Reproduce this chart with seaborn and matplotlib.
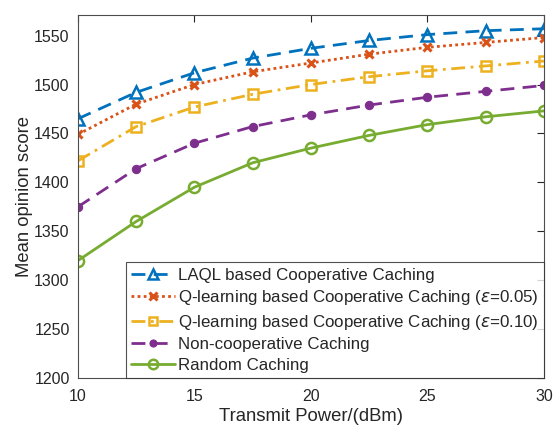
import matplotlib
matplotlib.use("Agg")
import matplotlib.pyplot as plt
import seaborn as sns
import pandas as pd

power = [10, 12.5, 15, 17.5, 20, 22.5, 25, 27.5, 30]
laql = [1465, 1492, 1512, 1527, 1537, 1545, 1551, 1555, 1557]
q005 = [1449, 1480, 1500, 1513, 1522, 1531, 1538, 1543, 1548]
q010 = [1422, 1457, 1477, 1490, 1500, 1508, 1514, 1519, 1524]
noncoop = [1375, 1414, 1440, 1457, 1469, 1479, 1487, 1493, 1499]
random_c = [1320, 1360, 1395, 1420, 1435, 1448, 1459, 1467, 1473]

labels = [
    "LAQL based Cooperative Caching",
    r"Q-learning based Cooperative Caching ($\epsilon$=0.05)",
    r"Q-learning based Cooperative Caching ($\epsilon$=0.10)",
    "Non-cooperative Caching",
    "Random Caching",
]
xticks = [10, 15, 20, 25, 30]
yticks = [1200, 1250, 1300, 1350, 1400, 1450, 1500, 1550]

sns.set_style("white")
plt.rcParams['font.family'] = ['Liberation Sans', 'DejaVu Sans']
plt.rcParams['mathtext.fontset'] = 'dejavusans'

fig = plt.figure(figsize=(5.55, 4.30), dpi=100)
ax = fig.add_axes([0.1405, 0.121, 0.8395, 0.844])

series = [laql, q005, q010, noncoop, random_c]
colors = ["#0072BD", "#D95319", "#EDB120", "#7E2F8E", "#77AC30"]
styles = [
    dict(linestyle=(0, (5, 3)), marker="^", markersize=9, markerfacecolor="none", markeredgewidth=1.8),
    dict(linestyle=(0, (1, 1.2)), marker="x", markersize=6, markeredgewidth=2.2),
    dict(linestyle=(0, (5, 2, 1, 2)), marker="s", markersize=7, markerfacecolor="none", markeredgewidth=1.8),
    dict(linestyle=(0, (5, 3)), marker="o", markersize=6),
    dict(linestyle="-", marker="o", markersize=8, markerfacecolor="none", markeredgewidth=1.8),
]

for vals, lab, col, st in zip(series, labels, colors, styles):
    df = pd.DataFrame({"power": power, "mos": vals})
    sns.lineplot(data=df, x="power", y="mos", ax=ax, color=col, linewidth=2.0,
                 label=lab, markeredgecolor=col, **st)

ax.set_xlim(10, 30)
ax.set_ylim(1200, 1571)
ax.set_xticks(xticks)
ax.set_yticks(yticks)
tc = "#262626"
ax.tick_params(direction="in", top=True, right=True, labelsize=11.5, colors=tc,
               length=5, width=0.8, labelcolor=tc)
ax.tick_params(axis="x", pad=8)
ax.tick_params(axis="y", pad=6)
for s in ax.spines.values():
    s.set_color("#4d4d4d")
    s.set_linewidth(0.8)
ax.set_xlabel("Transmit Power/(dBm)", fontsize=13.3, color=tc, labelpad=3)
ax.set_ylabel("Mean opinion score", fontsize=13.3, color=tc, labelpad=1)

leg = ax.legend(loc="lower right", fontsize=12.2, frameon=True, fancybox=False,
                edgecolor="#262626", borderaxespad=0, handlelength=2.6,
                handletextpad=0.2, labelspacing=0.33, borderpad=0.3,
                markerscale=0.85)
leg.get_frame().set_linewidth(0.8)
for t in leg.get_texts():
    t.set_color(tc)

fig.savefig("out.png", dpi=100)
